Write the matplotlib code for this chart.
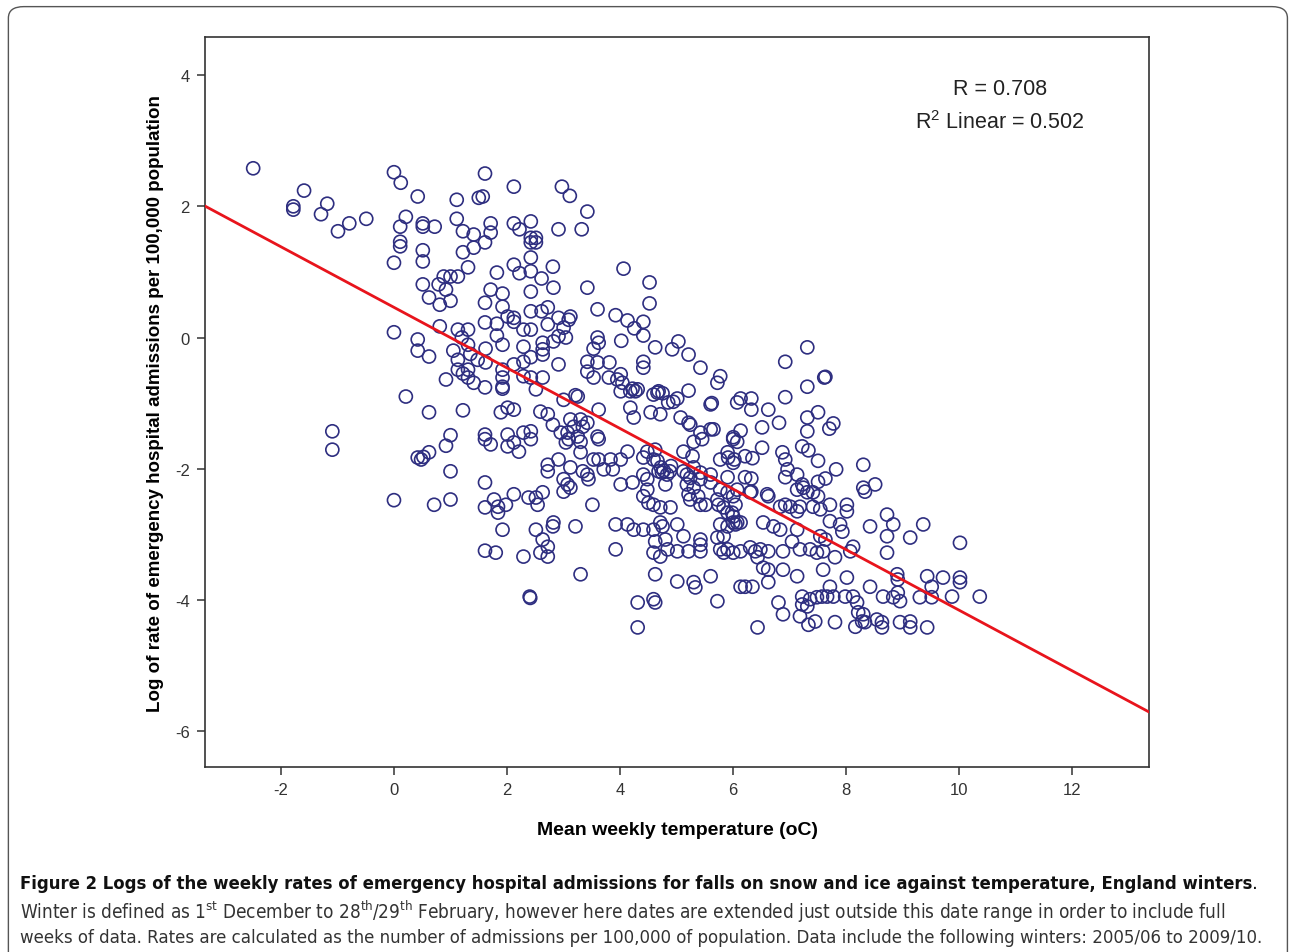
import numpy as np
import matplotlib
matplotlib.use("Agg")
import matplotlib.pyplot as plt
from matplotlib.patches import FancyBboxPatch

plt.rcParams['font.family'] = ['Liberation Sans', 'DejaVu Sans']
plt.rcParams['axes.unicode_minus'] = False

# (mean weekly temperature, log of admission rate)
below_zero = [(-2.49, 2.58), (-1.78, 2.00), (-1.78, 1.95), (-1.59, 2.24), (-1.18, 2.04),
              (-1.29, 1.88), (-0.99, 1.62), (-0.79, 1.74), (-0.49, 1.81), (-1.09, -1.43),
              (-1.09, -1.71)]

zero_to_16 = [(0, 2.52), (0.12, 2.36), (0.42, 2.15), (1.11, 2.10), (1.50, 2.13), (0.21, 1.84),
              (0.11, 1.69), (0.51, 1.74), (0.51, 1.69), (0.72, 1.69), (1.11, 1.81), (1.22, 1.62),
              (1.41, 1.57), (1.41, 1.37), (1.22, 1.30), (0.11, 1.46), (0.11, 1.39), (0.51, 1.33),
              (0.51, 1.16), (0, 1.14), (1.31, 1.07), (0.88, 0.93), (1.0, 0.93), (1.13, 0.93),
              (0.79, 0.81), (0.92, 0.73), (0.51, 0.81), (0.62, 0.61), (0.81, 0.50), (1.0, 0.56),
              (0.81, 0.17), (1.13, 0.12), (1.31, 0.12), (0, 0.08), (0.42, -0.03), (0.42, -0.2),
              (0.62, -0.29), (0.21, -0.90), (0.62, -1.14), (1.22, -1.11), (1.0, -1.49),
              (0.92, -1.65), (0.62, -1.75), (0.42, -1.83), (0.48, -1.86), (0.52, -1.82),
              (1.0, -2.04), (0, -2.48), (0.71, -2.55), (1.0, -2.47), (1.13, -0.34), (1.13, -0.49),
              (1.31, -0.11), (1.31, -0.49), (1.31, -0.61), (1.48, -0.34), (1.41, -0.69),
              (1.22, -0.55), (0.92, -0.64), (1.05, -0.2), (1.2, 0.0), (1.35, -0.25)]

sixteen_to_3 = [(1.61, 2.50), (1.57, 2.15), (1.61, 1.45), (1.61, 0.53), (1.61, 0.23), (1.61, -0.76),
                (1.61, -1.48), (1.61, -1.55), (1.61, -2.21), (1.61, -2.59), (1.61, -3.25),
                (2.12, 2.30), (2.97, 2.30), (3.11, 2.16), (3.42, 1.92), (2.91, 1.65), (3.32, 1.65),
                (1.71, 1.74), (1.71, 1.60), (2.12, 1.74), (2.22, 1.65), (2.42, 1.77), (2.42, 1.52),
                (2.51, 1.52), (2.42, 1.45), (2.51, 1.45), (2.42, 1.22), (2.12, 1.11), (2.22, 0.98),
                (2.42, 1.01), (1.82, 0.99), (2.81, 1.08), (2.61, 0.90), (2.82, 0.76), (2.42, 0.70),
                (1.71, 0.73), (1.92, 0.67), (1.92, 0.47), (2.01, 0.32), (2.12, 0.30), (2.12, 0.24),
                (1.82, 0.21), (2.42, 0.40), (2.61, 0.40), (2.72, 0.46), (2.29, 0.12), (2.42, 0.12),
                (2.72, 0.20), (2.91, 0.30), (3.12, 0.32), (3.09, 0.27), (3.0, 0.15), (3.04, 0.0),
                (2.91, 0.02), (2.82, -0.06), (1.82, 0.03), (1.92, -0.11), (1.62, -0.17),
                (2.29, -0.14), (2.63, -0.08), (2.63, -0.18), (2.63, -0.26), (2.42, -0.30),
                (2.29, -0.37), (1.62, -0.38), (2.12, -0.41), (1.92, -0.49), (1.92, -0.61),
                (2.29, -0.59), (2.42, -0.61), (2.63, -0.61), (2.91, -0.41), (1.92, -0.75),
                (1.92, -0.78), (2.51, -0.79)]

upper_mid = [(4.06, 1.05), (3.42, 0.76), (4.52, 0.84), (4.52, 0.52), (3.60, 0.43), (3.92, 0.34),
             (4.13, 0.26), (4.41, 0.24), (4.25, 0.14), (4.41, 0.03), (4.02, -0.05), (4.62, -0.15),
             (4.92, -0.18), (5.03, -0.06), (5.21, -0.26), (5.42, -0.46), (5.77, -0.59),
             (5.72, -0.69), (3.60, 0.0), (3.62, -0.08), (3.53, -0.17), (3.42, -0.37),
             (3.42, -0.52), (3.60, -0.38), (3.81, -0.38), (3.53, -0.61), (3.80, -0.61),
             (3.95, -0.64), (4.01, -0.56), (4.04, -0.69), (4.41, -0.37), (4.41, -0.46),
             (4.22, -0.78), (4.31, -0.79), (4.66, -0.84), (4.75, -0.85), (5.21, -0.81),
             (3.21, -0.88)]

lower_mid = [(3.25, -0.90), (3.0, -0.95), (4.01, -0.82), (4.18, -0.82), (4.27, -0.82), (4.59, -0.87),
             (4.68, -0.82), (4.85, -0.99), (4.94, -0.98), (5.01, -0.93), (5.60, -1.02), (5.62, -1.0),
             (6.07, -0.99), (1.89, -1.14), (2.01, -1.07), (2.12, -1.10), (2.59, -1.13),
             (2.72, -1.17), (3.62, -1.10), (4.18, -1.07), (4.24, -1.22), (4.54, -1.14),
             (4.71, -1.17), (5.07, -1.22), (5.21, -1.30), (5.24, -1.33), (5.60, -1.40),
             (3.12, -1.25), (3.30, -1.25), (3.42, -1.30), (3.34, -1.36), (3.18, -1.36),
             (2.81, -1.33), (2.95, -1.45), (3.07, -1.45), (3.09, -1.55), (3.25, -1.51),
             (3.30, -1.59), (3.04, -1.60), (3.60, -1.51), (3.62, -1.55), (1.71, -1.63),
             (2.01, -1.48), (2.01, -1.66), (2.12, -1.60), (2.21, -1.74), (2.29, -1.45),
             (2.42, -1.43), (2.42, -1.55), (5.30, -1.59), (5.42, -1.45), (5.45, -1.55),
             (5.65, -1.40), (6.0, -1.52), (6.07, -1.59), (5.12, -1.74), (5.28, -1.81),
             (5.77, -1.86), (5.90, -1.75), (5.91, -1.83), (6.0, -1.91), (3.30, -1.75),
             (2.91, -1.86), (3.53, -1.86), (3.62, -1.86), (3.71, -2.01), (3.83, -1.86),
             (3.87, -2.01), (4.01, -1.86), (4.13, -1.74), (4.41, -1.83), (4.48, -1.74),
             (4.62, -1.71), (4.59, -1.86), (2.72, -1.94), (2.72, -2.04), (3.12, -1.98),
             (3.34, -2.04), (3.42, -2.09), (3.44, -2.16), (3.0, -2.16), (3.07, -2.24),
             (3.0, -2.35), (3.12, -2.29), (4.01, -2.24), (4.22, -2.21), (4.41, -2.09),
             (4.48, -2.16), (4.48, -2.32), (4.41, -2.42), (4.50, -2.52), (4.66, -1.88),
             (4.72, -1.98), (4.77, -2.03), (4.83, -2.09), (4.74, -2.06), (4.88, -2.04),
             (4.90, -1.96), (4.68, -2.04), (4.80, -2.24), (5.12, -2.04), (5.18, -2.09),
             (5.24, -2.14), (5.30, -1.98), (5.42, -2.06), (5.42, -2.16), (5.18, -2.24),
             (5.30, -2.29), (5.21, -2.39), (5.60, -2.09), (5.60, -2.21), (5.90, -2.13),
             (5.77, -2.32), (5.90, -2.36), (6.0, -2.42), (6.07, -2.32), (4.71, -2.59),
             (4.59, -2.55), (4.89, -2.59), (5.24, -2.47), (5.38, -2.42), (5.42, -2.55),
             (5.51, -2.55), (5.72, -2.47), (5.74, -2.55), (5.83, -2.59), (5.90, -2.67),
             (6.0, -2.73), (6.07, -2.82), (5.77, -2.85), (5.90, -2.88), (1.77, -2.47),
             (1.84, -2.58), (1.84, -2.67), (1.98, -2.55), (2.12, -2.39), (2.38, -2.44),
             (2.51, -2.44), (2.54, -2.55), (2.63, -2.36), (3.51, -2.55), (1.92, -2.93),
             (2.51, -2.93), (2.63, -3.08), (2.72, -3.19), (2.81, -2.88), (2.82, -2.82),
             (3.21, -2.88), (3.92, -2.85), (4.13, -2.85), (4.24, -2.93), (4.41, -2.93),
             (4.59, -2.93), (4.71, -2.82), (4.75, -2.88), (5.01, -2.85), (5.12, -3.03),
             (4.80, -3.08), (4.62, -3.11), (5.42, -3.08), (5.42, -3.16), (5.72, -3.05),
             (5.83, -3.03), (5.90, -3.23), (5.83, -3.28), (6.0, -3.28), (5.77, -3.23),
             (1.80, -3.28), (2.29, -3.34), (2.59, -3.28), (2.72, -3.34), (3.92, -3.23),
             (4.59, -3.28), (4.71, -3.34), (4.84, -3.23), (5.01, -3.26), (5.21, -3.26),
             (5.42, -3.26), (4.62, -3.61), (3.30, -3.61), (5.01, -3.72), (5.30, -3.73),
             (5.33, -3.81), (5.60, -3.64), (2.40, -3.95), (2.41, -3.97), (4.31, -4.04),
             (4.59, -3.99), (4.62, -4.04), (5.72, -4.02), (4.31, -4.42), (6.13, -3.80)]

warm_upper = [(7.31, -0.15), (6.92, -0.37), (7.61, -0.61), (7.63, -0.60), (7.31, -0.75), (6.92, -0.91),
              (6.13, -0.93), (6.32, -0.93), (6.32, -1.10), (6.62, -1.10), (7.31, -1.22),
              (7.50, -1.14), (6.81, -1.30), (6.51, -1.37), (6.13, -1.42), (6.0, -1.55),
              (7.31, -1.43), (7.70, -1.39), (7.77, -1.31), (6.51, -1.68), (7.22, -1.66),
              (7.33, -1.72), (6.87, -1.75), (6.92, -1.86), (6.96, -2.01), (7.13, -2.09),
              (6.92, -2.13), (6.21, -1.81), (6.34, -1.84), (6.02, -1.86), (7.50, -1.88),
              (7.82, -2.01), (6.21, -2.13), (6.32, -2.15), (6.32, -2.35), (6.60, -2.39),
              (7.13, -2.32), (7.31, -2.36), (7.41, -2.36), (7.50, -2.20), (7.63, -2.15),
              (7.22, -2.24), (8.30, -1.94), (8.30, -2.29), (8.33, -2.35), (8.51, -2.24)]

warm_lower = [(6.30, -2.36), (6.04, -2.55), (5.98, -2.67), (6.0, -2.82), (6.13, -2.82), (6.04, -2.85),
              (6.53, -2.82), (6.71, -2.88), (6.83, -2.93), (6.62, -2.42), (6.83, -2.58),
              (6.92, -2.55), (7.01, -2.58), (7.13, -2.65), (7.18, -2.58), (7.24, -2.29),
              (7.50, -2.42), (7.41, -2.58), (7.54, -2.62), (7.71, -2.55), (8.01, -2.55),
              (8.01, -2.65), (7.71, -2.80), (7.89, -2.85), (7.93, -2.96), (8.42, -2.88),
              (8.72, -2.70), (8.83, -2.85), (8.72, -3.03), (8.72, -3.28), (9.13, -3.05),
              (9.36, -2.85), (10.01, -3.13), (6.13, -3.26), (6.30, -3.20), (6.39, -3.26),
              (6.48, -3.23), (6.62, -3.26), (6.43, -3.35), (6.53, -3.51), (6.62, -3.54),
              (6.21, -3.80), (6.34, -3.80), (6.62, -3.73), (6.88, -3.26), (7.04, -3.11),
              (7.13, -2.93), (7.18, -3.23), (7.36, -3.23), (7.48, -3.28), (7.59, -3.26),
              (7.80, -3.35), (7.54, -3.03), (7.63, -3.08), (6.88, -3.54), (7.13, -3.64),
              (7.59, -3.54), (8.01, -3.66), (8.12, -3.19), (8.07, -3.26), (7.71, -3.80),
              (7.22, -3.95), (7.22, -4.07), (7.36, -3.99), (7.48, -3.96), (7.57, -3.95),
              (7.66, -3.95), (7.77, -3.95), (7.31, -4.10), (6.80, -4.04), (6.88, -4.22),
              (6.43, -4.42), (7.18, -4.25), (7.33, -4.38), (7.45, -4.33), (7.80, -4.34),
              (7.98, -3.95), (8.12, -3.95), (8.19, -4.04), (8.21, -4.19), (8.30, -4.22),
              (8.28, -4.33), (8.33, -4.34), (8.16, -4.41), (8.42, -3.80), (8.54, -4.30),
              (8.63, -4.34), (8.63, -4.42), (8.65, -3.95), (8.83, -3.96), (8.91, -3.89),
              (8.95, -4.02), (8.91, -3.69), (8.90, -3.61), (8.95, -4.34), (9.13, -4.33),
              (9.13, -4.42), (9.30, -3.96), (9.51, -3.96), (9.51, -3.80), (9.71, -3.66),
              (9.87, -3.95), (9.43, -4.42), (9.43, -3.64), (10.01, -3.66), (10.01, -3.73),
              (10.36, -3.95)]

# fitted line as drawn (intercept, slope)
fit_intercept = 0.46
fit_slope = -0.462
r_value = 0.708
r2_linear = 0.502

caption_title = ('Figure 2 Logs of the weekly rates of emergency hospital admissions for falls on snow '
                 'and ice against temperature, England winters')
caption_lines = [
    r'Winter is defined as 1$^{\mathregular{st}}$ December to 28$^{\mathregular{th}}$/29$^{\mathregular{th}}$'
    ' February, however here dates are extended just outside this date range in order to include full',
    'weeks of data. Rates are calculated as the number of admissions per 100,000 of population. '
    'Data include the following winters: 2005/06 to 2009/10.',
]

pts = np.array(below_zero + zero_to_16 + sixteen_to_3 + upper_mid + lower_mid + warm_upper + warm_lower)
temp, lograte = pts[:, 0], pts[:, 1]

fig = plt.figure(figsize=(12.9, 9.53), dpi=100)
ax = fig.add_axes([0.159, 0.194, 0.732, 0.766])

ax.scatter(temp, lograte, s=88, facecolors='none', edgecolors='#2e2e80', linewidths=1.2, zorder=2)

xlim = (-3.34, 13.36)
ax.set_xlim(xlim)
ax.set_ylim(-6.55, 4.58)
xs = np.array(xlim)
ax.plot(xs, fit_intercept + fit_slope * xs, color='#e8141c', lw=2.0, zorder=3)

ax.set_xticks(np.arange(-2, 13, 2))
ax.set_yticks(np.arange(-6, 5, 2))
ax.tick_params(labelsize=12, length=6, width=1.1, direction='out', pad=5,
               color='#333333', labelcolor='#333333')
for sp in ax.spines.values():
    sp.set_linewidth(1.2)
    sp.set_color('#333333')

ax.set_xlabel('Mean weekly temperature (oC)', fontsize=14, fontweight='bold', labelpad=17)
ax.set_ylabel('Log of rate of emergency hospital admissions per 100,000 population',
              fontsize=13.5, fontweight='bold', labelpad=8)

ax.text(0.842, 0.930, f'R = {r_value:.3f}', transform=ax.transAxes, ha='center', va='center',
        fontsize=15.5, color='#222222')
ax.text(0.842, 0.884, r'R$^{\mathregular{2}}$ Linear = ' + f'{r2_linear:.3f}', transform=ax.transAxes,
        ha='center', va='center', fontsize=15.5, color='#222222')

# outer frame
frame = FancyBboxPatch((0.0065, -0.05), 0.9915, 1.042, boxstyle='round,pad=0,rounding_size=0.012',
                       transform=fig.transFigure, fill=False, edgecolor='#555555', lw=1.0)
fig.patches.append(frame)

# caption: shrink each line so it spans the same width as in the original
renderer = fig.canvas.get_renderer()
x0 = 20 / 1290
targets = [(caption_title, 0.0725, 'bold', '#111111', 1248 - 6),
           (caption_lines[0], 0.043, 'normal', '#333333', 1212),
           (caption_lines[1], 0.0155, 'normal', '#333333', 1248)]
for txt, yy, wt, col, width_px in targets:
    t = fig.text(x0, yy, txt, fontsize=14, fontweight=wt, va='center', ha='left', color=col,
                 family=['DejaVu Sans'], fontstretch='condensed')
    w = t.get_window_extent(renderer).width
    t.set_fontsize(14 * width_px / w)
    if wt == 'bold':
        w2 = t.get_window_extent(renderer)
        fig.text(w2.x1 / 1290, yy, '.', fontsize=t.get_fontsize(), va='center', ha='left',
                 color=col, family=['DejaVu Sans'])

fig.savefig('out.png', dpi=100)
